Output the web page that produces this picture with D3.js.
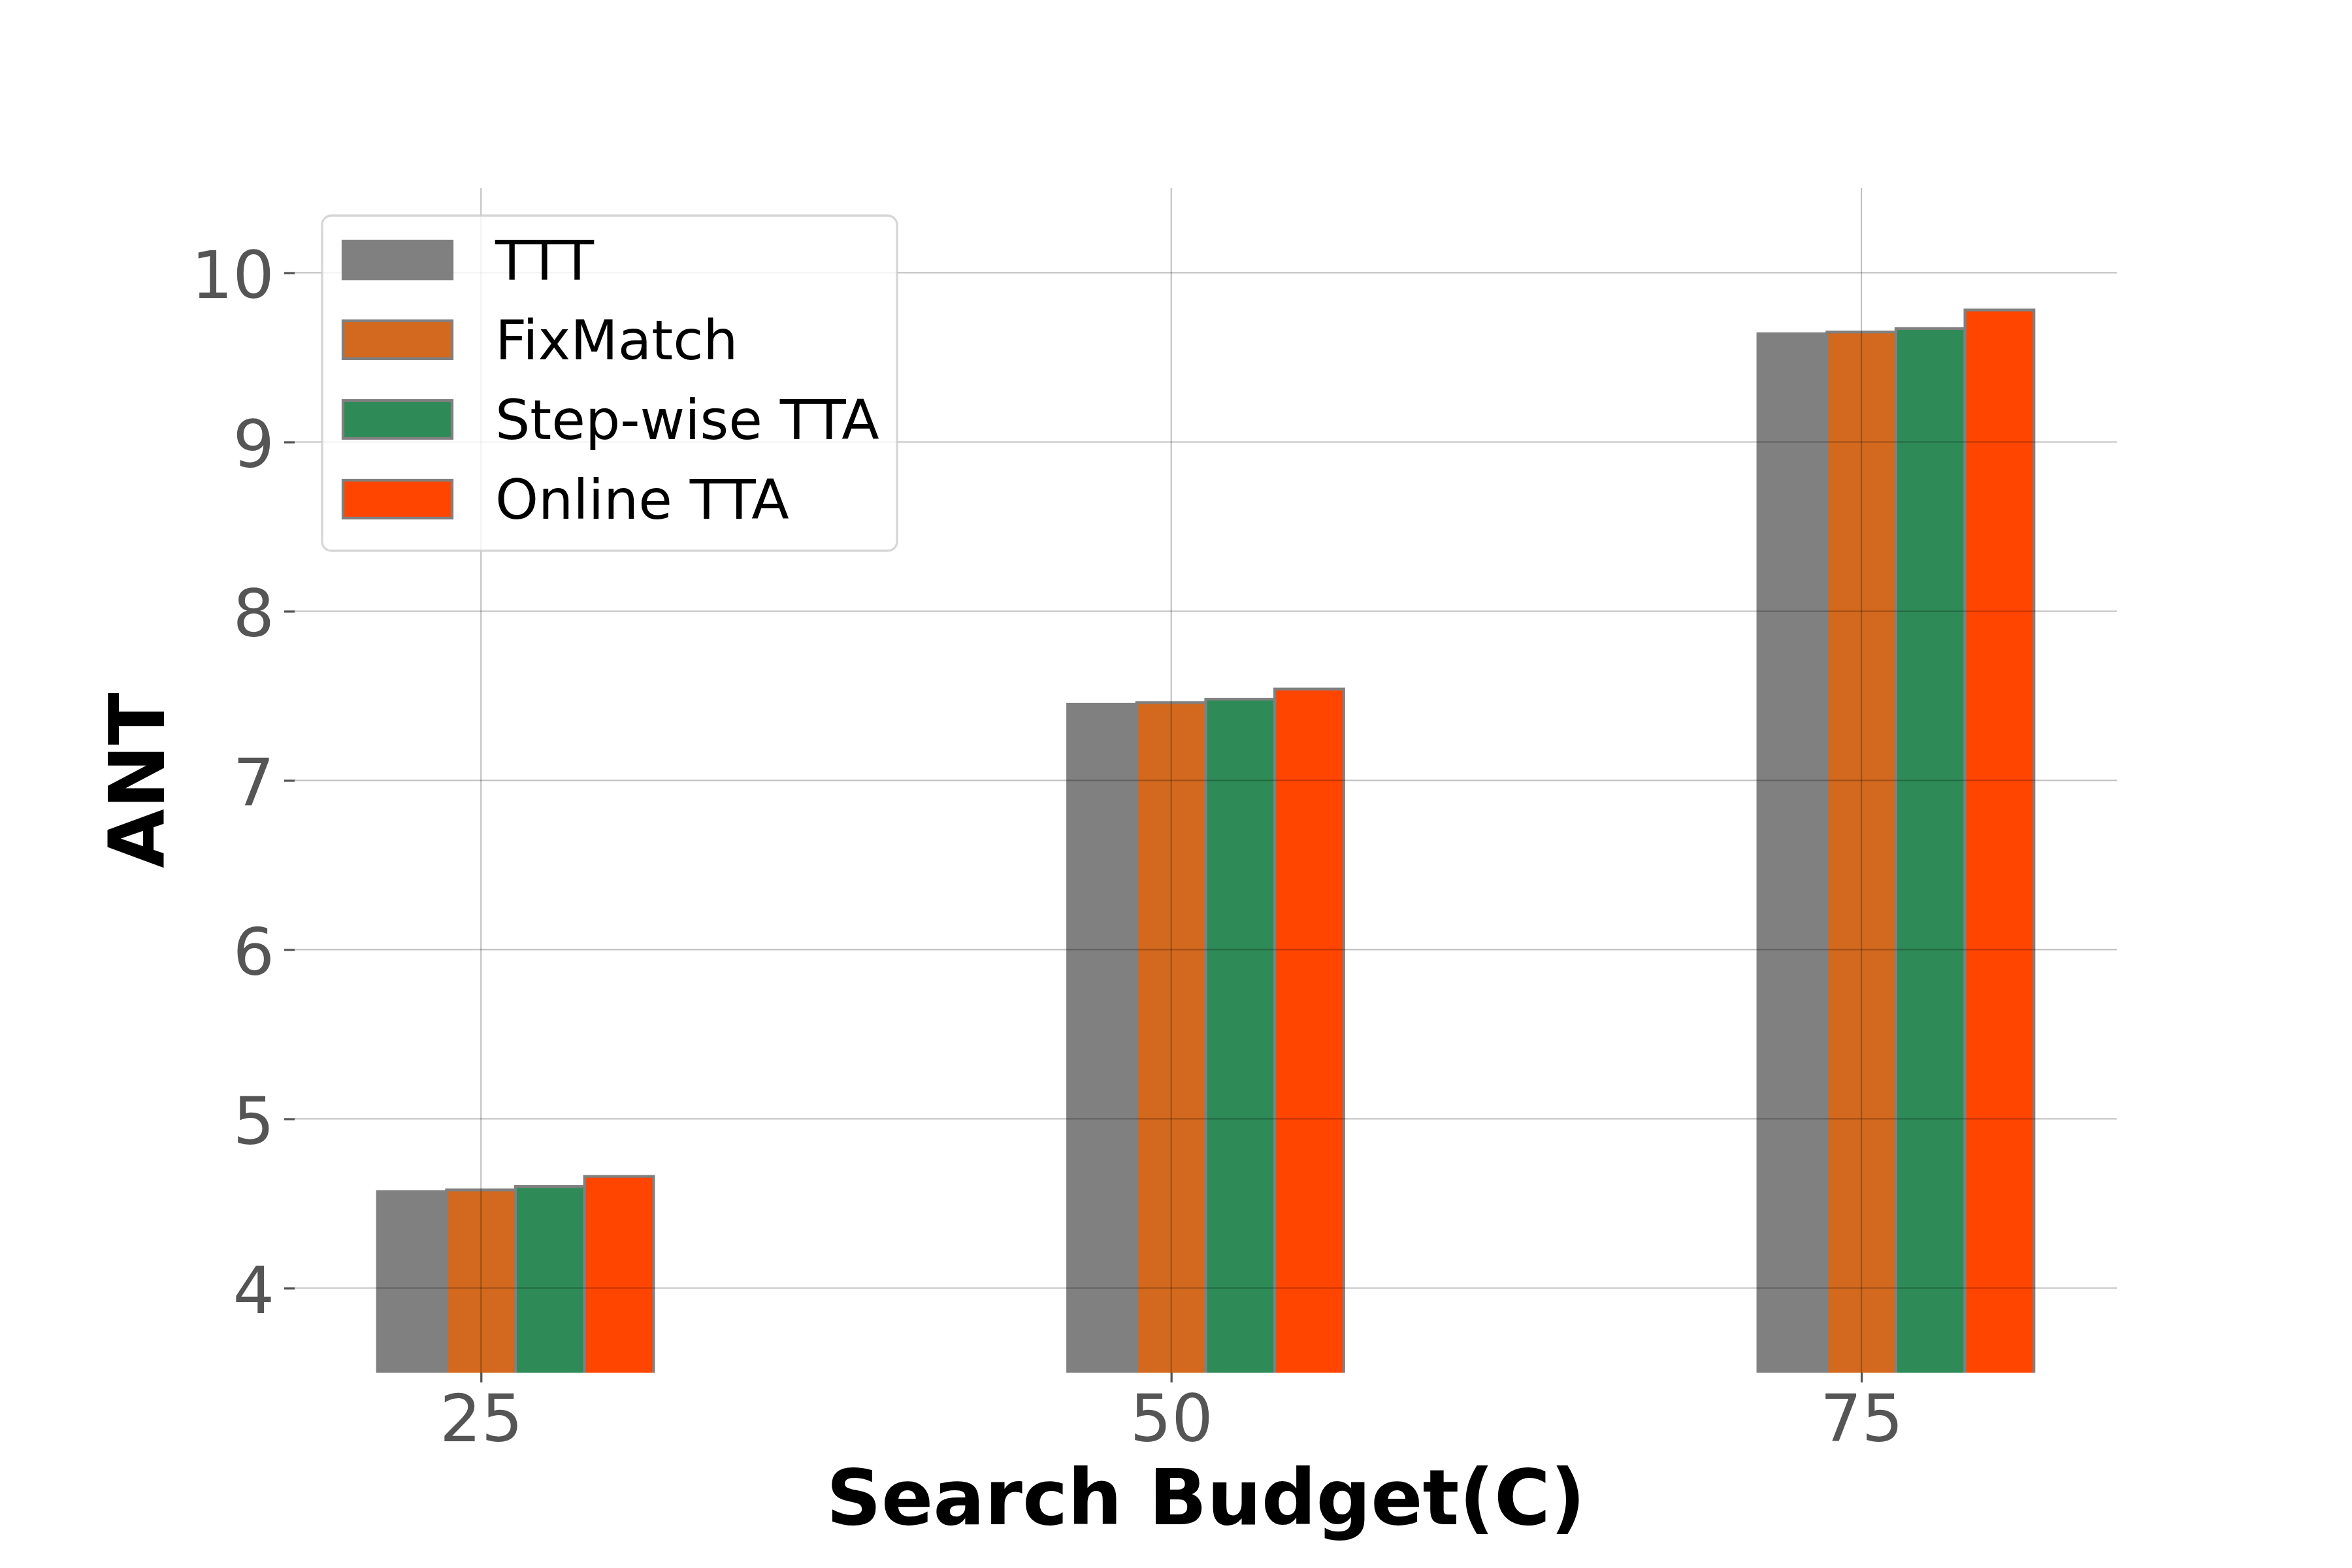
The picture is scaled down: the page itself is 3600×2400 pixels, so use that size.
<!DOCTYPE html>
<html>
<head>
<meta charset="utf-8">
<script src="https://cdn.jsdelivr.net/npm/d3@7"></script>
<style>
html,body{margin:0;padding:0;background:#fff;}
svg{display:block;font-family:"DejaVu Sans",sans-serif;}
</style>
</head>
<body>
<svg id="chart" width="3600" height="2400"></svg>
<script>
// ---- data ----
const budgets = [25, 50, 75];
const seriesNames = ["TTT", "FixMatch", "Step-wise TTA", "Online TTA"];
const ttt      = [4.57, 7.45, 9.64];
const fixmatch = [4.58, 7.46, 9.65];
const stepwise = [4.60, 7.48, 9.67];
const online   = [4.66, 7.54, 9.78];
const yTicks = [4, 5, 6, 7, 8, 9, 10];
const xTickLabels = ["25", "50", "75"];
const xLabel = "Search Budget(C)";
const yLabel = "ANT";

const seriesValues = [ttt, fixmatch, stepwise, online];
const colors = ["#808080", "#D2691E", "#2E8B57", "#FF4500"];
const barWidth = 2.5;
const offsets = [-2.5, 0, 2.5, 5];

// ---- layout ----
const L = 451, R = 3240, T = 288, B = 2101;
const svg = d3.select("#chart");
svg.append("rect").attr("width", 3600).attr("height", 2400).attr("fill", "#fff");

const x = d3.scaleLinear().domain([18.25, 84.25]).range([L, R]);
const y = d3.scaleLinear().domain([3.5, 10.5]).range([B, T]);

// clip
svg.append("defs").append("clipPath").attr("id", "plotclip")
  .append("rect").attr("x", L).attr("y", T).attr("width", R - L).attr("height", B - T);

// bars
const barsG = svg.append("g").attr("clip-path", "url(#plotclip)");
seriesValues.forEach((vals, si) => {
  barsG.selectAll(null)
    .data(vals.map((v, i) => ({v, c: budgets[i]})))
    .enter().append("rect")
    .attr("x", d => x(d.c + offsets[si] - barWidth / 2))
    .attr("width", d => x(d.c + offsets[si] + barWidth / 2) - x(d.c + offsets[si] - barWidth / 2))
    .attr("y", d => y(d.v))
    .attr("height", d => y(3.0) - y(d.v))
    .attr("fill", colors[si])
    .attr("stroke", "#808080")
    .attr("stroke-width", 4.2);
});

// gridlines (drawn above bars)
const gridG = svg.append("g");
gridG.selectAll(".hg").data(yTicks).enter().append("line")
  .attr("x1", L).attr("x2", R)
  .attr("y1", d => y(d)).attr("y2", d => y(d))
  .attr("stroke", "#000").attr("stroke-opacity", 0.25).attr("stroke-width", 2.1);
gridG.selectAll(".vg").data(budgets).enter().append("line")
  .attr("y1", T).attr("y2", B)
  .attr("x1", d => x(d)).attr("x2", d => x(d))
  .attr("stroke", "#000").attr("stroke-opacity", 0.25).attr("stroke-width", 2.1);

// axes
const xAxis = d3.axisBottom(x).tickValues(budgets).tickFormat((d, i) => xTickLabels[i])
  .tickSize(15).tickPadding(18);
const gx = svg.append("g").attr("transform", `translate(0,${B})`).call(xAxis);
gx.select(".domain").remove();
gx.selectAll(".tick line").attr("stroke", "#555").attr("stroke-width", 3.3);
gx.selectAll(".tick text").attr("fill", "#555").attr("font-size", 100)
  .attr("font-family", "DejaVu Sans").attr("dy", null).attr("y", 105);

const yAxis = d3.axisLeft(y).tickValues(yTicks).tickFormat(d3.format("d"))
  .tickSize(16).tickPadding(18);
const gy = svg.append("g").attr("transform", `translate(${L},0)`).call(yAxis);
gy.select(".domain").remove();
gy.selectAll(".tick line").attr("stroke", "#555").attr("stroke-width", 3.3);
gy.selectAll(".tick text").attr("fill", "#555").attr("font-size", 100)
  .attr("font-family", "DejaVu Sans").attr("dy", "0.38em").attr("x", -31);

// axis labels
svg.append("text").attr("x", (L + R) / 2).attr("y", 2333)
  .attr("text-anchor", "middle").attr("font-size", 117).attr("font-weight", "bold")
  .attr("fill", "#000").text(xLabel);
svg.append("text").attr("transform", `translate(251,${(T + B) / 2}) rotate(-90)`)
  .attr("text-anchor", "middle").attr("font-size", 117).attr("font-weight", "bold")
  .attr("fill", "#000").text(yLabel);

// legend
const lg = svg.append("g");
lg.append("rect").attr("x", 493).attr("y", 330).attr("width", 880).attr("height", 513)
  .attr("rx", 14).attr("ry", 14)
  .attr("fill", "#fff").attr("fill-opacity", 0.8)
  .attr("stroke", "#cccccc").attr("stroke-opacity", 0.8).attr("stroke-width", 3.3);
seriesNames.forEach((name, i) => {
  const cy = 398 + i * 122;
  lg.append("rect").attr("x", 525).attr("y", cy - 29).attr("width", 167).attr("height", 58)
    .attr("fill", colors[i]).attr("stroke", "#808080").attr("stroke-width", 4.2);
  lg.append("text").attr("x", 758).attr("y", cy + 30).attr("font-size", 84)
    .attr("fill", "#000").text(name);
});
</script>
</body>
</html>
